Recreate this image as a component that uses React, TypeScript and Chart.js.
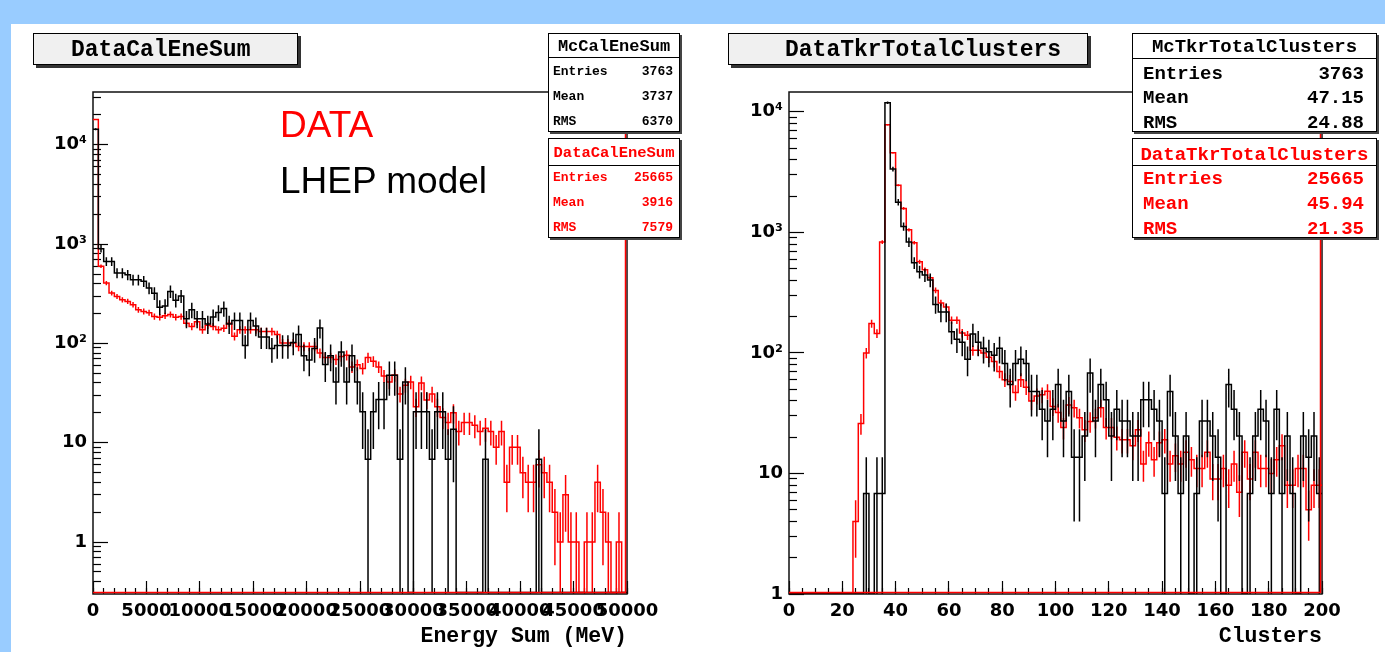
import React, { useEffect, useRef } from "react";
import { Chart, registerables } from "chart.js";

Chart.register(...registerables);

// ================= DATA =================
const mcEntries = 3763;
const dataEntries = 25665;

// Left panel: energy sum, 100 bins of 500 MeV
const energyBinWidth = 500;
const energyMin = 0;
const energyMax = 50000;
const dataCalEneSum = [
  18000, 600, 405, 321, 297, 275, 265, 245, 218, 210,
  204, 187, 184, 190, 196, 184, 187, 160, 148, 165,
  137, 152, 148, 137, 142, 160, 118, 137, 137, 137,
  137, 132, 132, 132, 123, 101, 101, 101, 93, 93,
  93, 93, 80, 72, 72, 69, 74, 76, 58, 61,
  56, 72, 66, 58, 47, 41, 48, 31, 38, 41,
  23, 40, 27, 31, 23, 18, 16, 20, 13, 16,
  16, 15, 13, 14, 13, 9, 13, 4, 9, 9,
  5, 4, 4, 6, 5, 4, 2, 1, 3, 1,
  1, 0, 1, 1, 4, 2, 1, 0, 1, 0,
];
const mcCalEneSumCounts = [
  2100, 132, 98, 98, 75, 75, 72, 64, 64, 62,
  53, 47, 34, 35, 49, 40, 44, 26, 32, 26,
  26, 23, 27, 30, 33, 23, 25, 25, 14, 25,
  22, 17, 17, 13, 14, 14, 14, 15, 18, 11,
  10, 13, 21, 9, 11, 6, 12, 6, 11, 6,
  3, 1, 3, 4, 4, 7, 7, 1, 6, 0,
  3, 3, 3, 1, 3, 3, 1, 2, 0, 0,
  0, 0, 0, 1, 0, 0, 0, 0, 0, 0,
  0, 0, 0, 1, 0, 0, 0, 0, 0, 0,
  0, 0, 0, 0, 0, 0, 0, 0, 0, 0,
];

// Right panel: total clusters, 100 bins of 2
const clusterBinWidth = 2;
const clusterMin = 0;
const clusterMax = 200;
const dataTkrTotalClusters = [
  0, 0, 0, 0, 0, 0, 0, 0, 0, 0,
  0, 0, 4, 26, 100, 175, 145, 830, 7800, 4570,
  2460, 1580, 1050, 820, 570, 490, 420, 330, 260, 240,
  187, 187, 146, 140, 105, 105, 100, 92, 85, 70,
  60, 58, 47, 60, 52, 40, 44, 45, 48, 36,
  32, 24, 37, 35, 29, 23, 27, 29, 35, 24,
  24, 20, 19, 19, 17, 23, 12, 18, 13, 18,
  19, 12, 14, 12, 15, 13, 11, 11, 15, 9,
  9, 11, 8, 12, 7, 15, 9, 15, 11, 11,
  10, 13, 17, 8, 8, 11, 11, 5, 8, 8,
];
const mcTkrTotalClustersCounts = [
  0, 0, 0, 0, 0, 0, 0, 0, 0, 0,
  0, 0, 0, 0, 1, 0, 1, 1, 1745, 491,
  261, 164, 122, 82, 69, 65, 59, 37, 32, 32,
  22, 19, 18, 13, 21, 18, 16, 15, 14, 16,
  12, 8, 12, 13, 12, 7, 7, 5, 4, 5,
  8, 4, 7, 2, 2, 3, 10, 4, 8, 6,
  3, 5, 4, 4, 3, 3, 6, 6, 5, 4,
  1, 7, 3, 1, 3, 0, 1, 4, 4, 3,
  2, 0, 8, 5, 3, 0, 1, 3, 5, 4,
  1, 5, 1, 3, 1, 0, 3, 2, 3, 1,
];

// Axes
const energyMajorStep = 5000;
const energyMinorStep = 1000;
const clusterMajorStep = 20;
const clusterMinorStep = 5;
const energyYMin = 0.31;
const energyYMax = 34000;
const clusterYMin = 1;
const clusterYMax = 14600;
const yMajorTicks = [1, 10, 100, 1000, 10000];
const yMajorLabels = ["1", "10", "10\u00b2", "10\u00b3", "10\u2074"];

// Stats boxes
const statsLabels = ["Entries", "Mean", "RMS"];
const mcCalStatsValues = ["3763", "3737", "6370"];
const dataCalStatsValues = ["25665", "3916", "7579"];
const mcTkrStatsValues = ["3763", "47.15", "24.88"];
const dataTkrStatsValues = ["25665", "45.94", "21.35"];

// ================= HELPERS =================
const BLACK = "#000000";
const RED = "#ff0000";

function stepPoints(values: number[], binWidth: number, x0: number, floor: number) {
  const pts: { x: number; y: number }[] = values.map((v, i) => ({
    x: x0 + i * binWidth,
    y: v > 0 ? v : floor,
  }));
  const last = values[values.length - 1];
  pts.push({ x: x0 + values.length * binWidth, y: last > 0 ? last : floor });
  return pts;
}

function errorPoints(values: number[], errors: number[], binWidth: number, x0: number, floor: number) {
  const pts: { x: number; y: number | null }[] = [];
  values.forEach((v, i) => {
    if (v <= 0) return;
    const c = x0 + (i + 0.5) * binWidth;
    pts.push({ x: c, y: Math.max(v - errors[i], floor) });
    pts.push({ x: c, y: v + errors[i] });
    pts.push({ x: c, y: null });
  });
  return pts;
}

function minorLogTicks(min: number, max: number) {
  const out: number[] = [];
  for (let e = Math.floor(Math.log10(min)); e <= Math.ceil(Math.log10(max)); e++) {
    for (let m = 2; m <= 9; m++) {
      const v = m * Math.pow(10, e);
      if (v >= min && v <= max) out.push(v);
    }
  }
  return out;
}

function yLabel(v: number) {
  const i = yMajorTicks.findIndex((m) => Math.abs(m - v) / m < 1e-6);
  return i >= 0 ? yMajorLabels[i] : "";
}

const framePlugin = {
  id: "rootFrame",
  beforeDatasetsDraw(chart: any) {
    const { ctx, chartArea: a } = chart;
    ctx.save();
    ctx.strokeStyle = "#111";
    ctx.lineWidth = 1.5;
    ctx.strokeRect(a.left, a.top, a.right - a.left, a.bottom - a.top);
    ctx.restore();
  },
  afterDatasetsDraw(chart: any) {
    const { ctx, chartArea: a } = chart;
    ctx.save();
    ctx.strokeStyle = RED;
    ctx.lineWidth = 1.5;
    ctx.beginPath();
    ctx.moveTo(a.left, a.bottom - 1.5);
    ctx.lineTo(a.right - 1.5, a.bottom - 1.5);
    ctx.lineTo(a.right - 1.5, a.top);
    ctx.stroke();
    ctx.restore();
  },
};

interface PanelSpec {
  canvasLeft: number;
  canvasWidth: number;
  padLeft: number;
  padRight: number;
  binWidth: number;
  xMin: number;
  xMax: number;
  majorStep: number;
  minorStep: number;
  yMin: number;
  yMax: number;
  data: number[];
  mcCounts: number[];
  xTitle: string;
}

const tickFont = { family: "DejaVu Sans", size: 18, weight: "bold" as const };

function buildConfig(p: PanelSpec): any {
  const mcScale = dataEntries / mcEntries;
  const mcValues = p.mcCounts.map((n) => n * mcScale);
  const mcErrors = p.mcCounts.map((n) => Math.sqrt(n) * mcScale);
  const dataErrors = p.data.map((v) => Math.sqrt(v));
  const minors = minorLogTicks(p.yMin, p.yMax);
  const majors = yMajorTicks.filter((v) => v >= p.yMin && v <= p.yMax);

  const lineCommon = { pointRadius: 0, borderWidth: 1.5, fill: false, tension: 0 };

  return {
    type: "line",
    data: {
      datasets: [
        { ...lineCommon, label: "mc", data: stepPoints(mcValues, p.binWidth, p.xMin, p.yMin), borderColor: BLACK, stepped: "before" },
        { ...lineCommon, label: "mcErr", data: errorPoints(mcValues, mcErrors, p.binWidth, p.xMin, p.yMin), borderColor: BLACK, spanGaps: false },
        { ...lineCommon, label: "data", data: stepPoints(p.data, p.binWidth, p.xMin, p.yMin), borderColor: RED, stepped: "before" },
        { ...lineCommon, label: "dataErr", data: errorPoints(p.data, dataErrors, p.binWidth, p.xMin, p.yMin), borderColor: RED, spanGaps: false },
      ],
    },
    options: {
      animation: false,
      responsive: false,
      events: [],
      layout: { padding: { left: p.padLeft, right: p.padRight, top: 92, bottom: 3 } },
      plugins: { legend: { display: false }, tooltip: { enabled: false } },
      scales: {
        x: {
          type: "linear",
          axis: "x",
          position: "bottom",
          weight: 1,
          min: p.xMin,
          max: p.xMax,
          ticks: {
            stepSize: p.majorStep,
            autoSkip: false,
            maxRotation: 0,
            minRotation: 0,
            padding: 20,
            color: "#000",
            font: tickFont,
            callback: (v: number) => String(v),
          },
          grid: { drawOnChartArea: false, drawTicks: true, tickLength: -13, tickColor: "#000", tickWidth: 1.2 },
          border: { display: false },
          title: {
            display: true,
            text: p.xTitle,
            align: "end",
            color: "#000",
            padding: 0,
            font: { family: "Liberation Mono", size: 21.5, weight: "bold" },
          },
          afterFit: (s: any) => {
            s.height = 55;
          },
        },
        xMinor: {
          type: "linear",
          axis: "x",
          position: "bottom",
          weight: 0,
          min: p.xMin,
          max: p.xMax,
          ticks: { stepSize: p.minorStep, display: false, autoSkip: false },
          grid: { drawOnChartArea: false, drawTicks: true, tickLength: -6, tickColor: "#000", tickWidth: 1.2 },
          border: { display: false },
          afterFit: (s: any) => {
            s.height = 0;
          },
        },
        y: {
          type: "logarithmic",
          axis: "y",
          position: "left",
          weight: 1,
          min: p.yMin,
          max: p.yMax,
          afterBuildTicks: (s: any) => {
            s.ticks = majors.map((v) => ({ value: v }));
          },
          ticks: {
            autoSkip: false,
            padding: 21,
            color: "#000",
            font: tickFont,
            callback: (v: number) => yLabel(v),
          },
          grid: { drawOnChartArea: false, drawTicks: true, tickLength: -15, tickColor: "#000", tickWidth: 1.2 },
          border: { display: false },
          afterFit: (s: any) => {
            s.width = 60;
          },
        },
        yMinor: {
          type: "logarithmic",
          axis: "y",
          position: "left",
          weight: 0,
          min: p.yMin,
          max: p.yMax,
          afterBuildTicks: (s: any) => {
            s.ticks = minors.map((v) => ({ value: v }));
          },
          ticks: { display: false, autoSkip: false },
          grid: { drawOnChartArea: false, drawTicks: true, tickLength: -8, tickColor: "#000", tickWidth: 1.2 },
          border: { display: false },
          afterFit: (s: any) => {
            s.width = 0;
          },
        },
      },
    },
    plugins: [framePlugin],
  };
}

const leftSpec: PanelSpec = {
  canvasLeft: 0,
  canvasWidth: 700,
  padLeft: 33,
  padRight: 73,
  binWidth: energyBinWidth,
  xMin: energyMin,
  xMax: energyMax,
  majorStep: energyMajorStep,
  minorStep: energyMinorStep,
  yMin: energyYMin,
  yMax: energyYMax,
  data: dataCalEneSum,
  mcCounts: mcCalEneSumCounts,
  xTitle: "Energy Sum (MeV)",
};

const rightSpec: PanelSpec = {
  canvasLeft: 700,
  canvasWidth: 685,
  padLeft: 29,
  padRight: 63,
  binWidth: clusterBinWidth,
  xMin: clusterMin,
  xMax: clusterMax,
  majorStep: clusterMajorStep,
  minorStep: clusterMinorStep,
  yMin: clusterYMin,
  yMax: clusterYMax,
  data: dataTkrTotalClusters,
  mcCounts: mcTkrTotalClustersCounts,
  xTitle: "Clusters",
};

function HistCanvas({ spec }: { spec: PanelSpec }) {
  const ref = useRef<HTMLCanvasElement | null>(null);
  useEffect(() => {
    if (!ref.current) return;
    const chart = new Chart(ref.current, buildConfig(spec));
    return () => chart.destroy();
  }, [spec]);
  return (
    <canvas
      ref={ref}
      width={spec.canvasWidth}
      height={652}
      style={{ position: "absolute", left: spec.canvasLeft, top: 0, width: spec.canvasWidth, height: 652 }}
    />
  );
}

const mono = '"Liberation Mono", "DejaVu Sans Mono", monospace';

function TitleBox(props: { left: number; top: number; width: number; height: number; text: string; textLeft: number }) {
  const { left, top, width, height, text, textLeft } = props;
  return (
    <div
      style={{
        position: "absolute",
        left,
        top,
        width,
        height,
        boxSizing: "border-box",
        border: "1px solid #000",
        background: "#f0f0f0",
        boxShadow: "3px 3px 0 #333",
      }}
    >
      <div
        style={{
          position: "absolute",
          left: textLeft - left - 1,
          top: 3,
          height: height - 2,
          lineHeight: `${height - 2}px`,
          font: `bold 23px ${mono}`,
          color: "#000",
          whiteSpace: "nowrap",
        }}
      >
        {text}
      </div>
    </div>
  );
}

function StatsBox(props: {
  left: number;
  top: number;
  width: number;
  height: number;
  sep: number;
  title: string;
  color: string;
  titleSize: number;
  rowSize: number;
  titleCY: number;
  rowCYs: number[];
  values: string[];
  padL: number;
  padR: number;
}) {
  const p = props;
  const textStyle = (size: number) => ({
    position: "absolute" as const,
    height: size,
    lineHeight: `${size}px`,
    font: `bold ${size}px ${mono}`,
    color: p.color,
    whiteSpace: "nowrap" as const,
  });
  return (
    <div
      style={{
        position: "absolute",
        left: p.left,
        top: p.top,
        width: p.width,
        height: p.height,
        boxSizing: "border-box",
        border: "1px solid #000",
        background: "#fff",
        boxShadow: "2px 2px 0 #444",
      }}
    >
      <div style={{ position: "absolute", left: 0, right: 0, top: p.sep - 1, borderTop: "1px solid #000" }} />
      <div style={{ ...textStyle(p.titleSize), left: 0, right: 0, top: p.titleCY - p.titleSize / 2 - 1, textAlign: "center" }}>
        {p.title}
      </div>
      {statsLabels.map((lab, i) => (
        <React.Fragment key={lab}>
          <div style={{ ...textStyle(p.rowSize), left: p.padL - 1, top: p.rowCYs[i] - p.rowSize / 2 - 1 }}>{lab}</div>
          <div style={{ ...textStyle(p.rowSize), right: p.padR - 1, top: p.rowCYs[i] - p.rowSize / 2 - 1, textAlign: "right" }}>
            {p.values[i]}
          </div>
        </React.Fragment>
      ))}
    </div>
  );
}

export default function App() {
  return (
    <div
      style={{
        position: "fixed",
        left: 0,
        top: 0,
        width: 1385,
        height: 652,
        background: "#99ccff",
        overflow: "hidden",
      }}
    >
      <div style={{ position: "absolute", left: 11, top: 24, right: 0, bottom: 0, background: "#ffffff" }} />
      <HistCanvas spec={leftSpec} />
      <HistCanvas spec={rightSpec} />

      <TitleBox left={33} top={33} width={265} height={32} text="DataCalEneSum" textLeft={71} />
      <TitleBox left={728} top={33} width={360} height={32} text="DataTkrTotalClusters" textLeft={785} />

      <div style={{ position: "absolute", left: 280, top: 106, font: '37px "Liberation Sans", Arial, sans-serif', lineHeight: "37px", color: RED, whiteSpace: "nowrap" }}>
        DATA
      </div>
      <div style={{ position: "absolute", left: 280, top: 162, font: '37px "Liberation Sans", Arial, sans-serif', lineHeight: "37px", color: "#000", whiteSpace: "nowrap" }}>
        LHEP model
      </div>

      <StatsBox left={548} top={33} width={132} height={99} sep={24} title="McCalEneSum" color="#000" titleSize={17} rowSize={13} titleCY={12} rowCYs={[37, 62, 87]} values={mcCalStatsValues} padL={5} padR={7} />
      <StatsBox left={548} top={138} width={132} height={100} sep={27} title="DataCalEneSum" color={RED} titleSize={15.5} rowSize={13} titleCY={14} rowCYs={[38, 63, 88]} values={dataCalStatsValues} padL={5} padR={7} />
      <StatsBox left={1132} top={33} width={245} height={99} sep={25} title="McTkrTotalClusters" color="#000" titleSize={19} rowSize={19} titleCY={12} rowCYs={[39, 63, 88]} values={mcTkrStatsValues} padL={11} padR={13} />
      <StatsBox left={1132} top={138} width={245} height={100} sep={27} title="DataTkrTotalClusters" color={RED} titleSize={19} rowSize={19} titleCY={15} rowCYs={[39, 64, 89]} values={dataTkrStatsValues} padL={11} padR={13} />
    </div>
  );
}
